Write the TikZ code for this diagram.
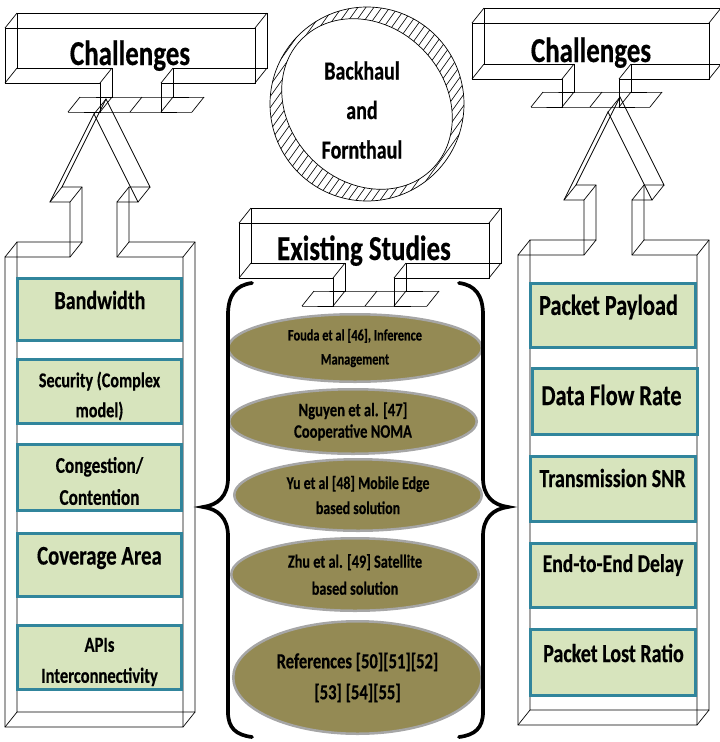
\documentclass[tikz,border=0pt]{standalone}
\usepackage{fontspec}
\setmainfont{Carlito}[FakeStretch=0.77, BoldFeatures={FakeBold=0.4}]
\usetikzlibrary{shapes.geometric, positioning}
\definecolor{boxfill}{HTML}{D7E4BD}
\definecolor{boxline}{HTML}{31859C}
\definecolor{ellfill}{HTML}{948A54}
\definecolor{ellline}{HTML}{A6A6A6}
\newcommand\ftsz[2]{\fontsize{#1}{#2}\selectfont\bfseries}
% wireframe prism: front outline, back outline and the depth edges
\newcommand\prism[3]{%
  \draw[wire] (#1,#2) \foreach \x/\y in {#3} { -- (\x,\y) } -- cycle;
  \draw[wire, shift={(12,-15)}] (#1,#2) \foreach \x/\y in {#3} { -- (\x,\y) } -- cycle;
  \foreach \x/\y in {#1/#2,#3} \draw[wire] (\x,\y) -- ++(12,-15);
}

\begin{document}
\begin{tikzpicture}[x=1pt, y=-1pt,
  wire/.style={draw=black, line width=0.7pt},
  gbox/.style={draw=boxline, fill=boxfill, line width=2.6pt, inner sep=0},
  ell/.style={ellipse, draw=ellline, fill=ellfill, line width=2.5pt, inner sep=0, align=center},
  brace/.style={draw=black, line width=3.7pt, line cap=round}
]
\useasboundingbox (0,0) rectangle (720,742);

% callout shapes
\prism{5}{257}{70/257, 70/202, 50/202, 94/114, 138/202, 117/202, 117/257, 183/257, 183/727, 5/727}
\prism{518}{255}{584/255, 584/200, 564/200, 608/112, 652/200, 632/200, 632/255, 697/255, 697/725, 518/725}
\prism{5}{28}{255/28, 255/83, 161/83, 161/112, 192/112, 130/112, 68/112, 100/112, 100/83, 5/83}
\prism{239}{223}{489/223, 489/278, 394/278, 394/306, 427/306, 365/306, 302/306, 333/306, 333/278, 239/278}
\prism{472}{23}{709/23, 709/79, 619/79, 619/107, 650/107, 590/107, 531/107, 562/107, 562/79, 472/79}

\node[font=\ftsz{35}{40}, anchor=base] (chl) at (130,65) {Challenges};
\node[font=\ftsz{35}{40}, anchor=base] (chr) at (591,62) {Challenges};
\node[font=\ftsz{35}{40}, anchor=base] (ex) at (364,260) {Existing Studies};

% hatched ring
\begin{scope}
  \clip (367,104) circle[radius=97];
  \foreach \a in {110,118,...,462}
    \draw[line width=0.6pt] (\a,220) -- ++(160,-224);
\end{scope}
\draw[wire, fill=white, rotate around={-45:(367,104)}] (367,104) ellipse[x radius=92, y radius=78];
\draw[wire] (367,104) circle[radius=97];
\node[font=\ftsz{26}{39.5}, align=center] (bf) at (362,110) {Backhaul\\and\\Fornthaul};

% left column
\node[gbox, minimum width=164, minimum height=62.5] (bw) at (99.5,309.5) {};
\node[gbox, minimum width=164, minimum height=64.5] (sec) at (99.5,391.5) {};
\node[gbox, minimum width=164, minimum height=66.5] (cng) at (99.5,477.5) {};
\node[gbox, minimum width=164, minimum height=63.5] (cov) at (99.5,565) {};
\node[gbox, minimum width=164, minimum height=64.5] (api) at (99.5,657.5) {};
\node[font=\ftsz{26}{31}] (bwt) at (100,300) {Bandwidth};
\node[font=\ftsz{21}{30}, align=center] (sect) at (99.5,396) {Security (Complex\\model)};
\node[font=\ftsz{22.5}{32}, align=center] (cngt) at (99.5,481) {Congestion/\\Contention};
\node[font=\ftsz{27}{31}] (covt) at (99.5,558) {Coverage Area};
\node[font=\ftsz{21.5}{31}, align=center] (apit) at (99.5,662) {APIs\\Interconnectivity};

% right column
\node[gbox, minimum width=165.5, minimum height=64.5] (pp) at (613,315.5) {};
\node[gbox, minimum width=165.5, minimum height=66.5] (dfr) at (615,401.5) {};
\node[gbox, minimum width=165.5, minimum height=65.5] (snr) at (613,489) {};
\node[gbox, minimum width=165.5, minimum height=64.5] (ete) at (613,575.5) {};
\node[gbox, minimum width=165.5, minimum height=66.5] (plr) at (613,662.5) {};
\node[font=\ftsz{29}{31}] (ppt) at (608.5,307) {Packet Payload};
\node[font=\ftsz{29}{31}] (dfrt) at (611.5,395) {Data Flow Rate};
\node[font=\ftsz{26}{31}] (snrt) at (612.5,478) {Transmission SNR};
\node[font=\ftsz{25.5}{31}] (etet) at (613,565) {End-to-End Delay};
\node[font=\ftsz{26}{31}] (plrt) at (613.5,653) {Packet Lost Ratio};

% existing studies
\node[ell, minimum width=253.5, minimum height=67.5, font=\ftsz{16}{24}] (e1) at (355,348) {Fouda et al [46], Inference\\Management};
\node[ell, minimum width=247.5, minimum height=64.5, font=\ftsz{19}{21.5}] (e2) at (353,421.5) {Nguyen et al. [47]\\Cooperative NOMA};
\node[ell, minimum width=247.5, minimum height=71.5, font=\ftsz{18}{25}] (e3) at (358,495) {Yu et al [48] Mobile Edge\\based solution};
\node[ell, minimum width=247.5, minimum height=72.5, font=\ftsz{18.5}{27}] (e4) at (355,574.5) {Zhu et al. [49] Satellite\\based solution};
\node[ell, minimum width=248.5, minimum height=112.5, font=\ftsz{21.5}{31}] (e5) at (357.5,677.5) {References [50][51][52]\\{[53] [54][55]}};

% braces
\draw[brace] (252,283) .. controls (236,285) and (228,295) .. (228,315) -- (228,478)
  .. controls (228,496) and (218,505) .. (203,507) .. controls (218,509) and (228,518) .. (228,536)
  -- (228,712) .. controls (228,728) and (236,735) .. (252,737);
\draw[brace] (459,283) .. controls (475,285) and (483,295) .. (483,315) -- (483,478)
  .. controls (483,496) and (493,505) .. (508,507) .. controls (493,509) and (483,518) .. (483,536)
  -- (483,712) .. controls (483,728) and (475,735) .. (459,737);
\end{tikzpicture}
\end{document}
